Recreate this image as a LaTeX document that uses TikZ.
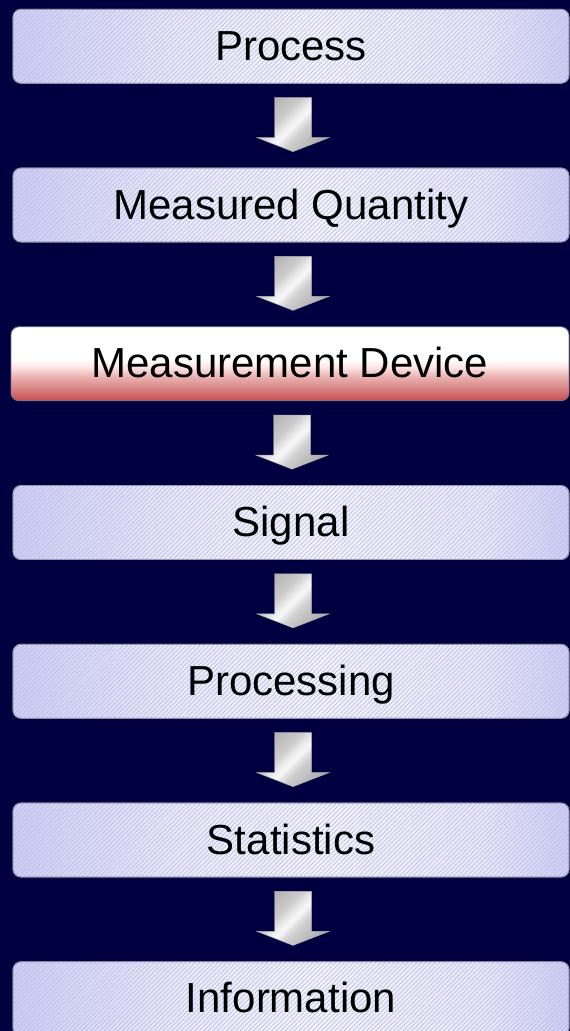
\documentclass[tikz,border=0pt]{standalone}
\usepackage{fontspec}
\setmainfont{Liberation Sans}
\usetikzlibrary{calc,patterns.meta}

\definecolor{navy}{RGB}{0,0,64}
\definecolor{lavedge}{RGB}{206,206,248}
\definecolor{lavmid}{RGB}{244,244,254}
\definecolor{lavline}{RGB}{188,188,224}
\definecolor{boxrim}{RGB}{150,150,175}
\definecolor{rosebase}{RGB}{198,76,76}
\definecolor{rosemid}{RGB}{234,176,176}

% soft lavender band: deeper at both ends, pale in the middle
% (TikZ fits the 25bp..75bp part of a shading to the path)
\pgfdeclarehorizontalshading{lavshade}{100bp}{
  color(0bp)=(lavedge); color(25bp)=(lavedge);
  color(40bp)=(lavmid!75!lavedge); color(52.5bp)=(lavmid);
  color(67.5bp)=(lavmid!70!lavedge); color(75bp)=(lavedge);
  color(100bp)=(lavedge)}
% white top fading to rose at the bottom
\pgfdeclareverticalshading{roseshade}{100bp}{
  color(0bp)=(rosebase); color(25bp)=(rosebase);
  color(33bp)=(rosebase!70!white); color(41bp)=(rosemid);
  color(48bp)=(white!90!red); color(53bp)=(white);
  color(100bp)=(white)}
% metallic sheen for the block arrows
\pgfdeclarehorizontalshading{steelshade}{100bp}{
  color(0bp)=(black!32); color(25bp)=(black!32);
  color(42bp)=(black!18); color(49bp)=(black!3);
  color(53bp)=(black!7); color(60bp)=(black!20);
  color(75bp)=(black!30); color(100bp)=(black!30)}

\tikzset{
  x=1pt, y=-1pt,
  stage/.style={rounded corners=8pt, draw=boxrim, line width=0.8pt,
    minimum width=556pt, minimum height=74pt, inner sep=0pt,
    text height=28pt, text depth=0pt,
    font=\fontsize{42}{48}\selectfont},
  plainstage/.style={stage, shading=lavshade,
    postaction={pattern={Lines[angle=45,distance=3.2pt,line width=0.7pt]},
                pattern color=lavline},
    postaction={draw=boxrim, line width=0.8pt}},
  keystage/.style={stage, shading=roseshade, draw=boxrim!80!black},
  steel/.style={shading=steelshade, shading angle=135,
    draw=black!30, line width=0.4pt},
}

\begin{document}
\begin{tikzpicture}
  \useasboundingbox (0,0) rectangle (570,1031);
  \clip (0,0) rectangle (570,1031);
  \fill[navy] (0,0) rectangle (570,1031);

  \node[plainstage] (s1) at (291,46.25)  {Process};
  \node[plainstage] (s2) at (291,205)    {Measured Quantity};
  \node[keystage, minimum width=558pt] (s3) at (290,363.75) {Measurement Device};
  \node[plainstage] (s4) at (291,522.5)  {Signal};
  \node[plainstage] (s5) at (291,681.25) {Processing};
  \node[plainstage] (s6) at (291,840)    {Statistics};
  \node[plainstage] (s7) at (291,998.75) {Information};

  % block arrows between consecutive stages
  \foreach \a/\b in {s1/s2,s2/s3,s3/s4,s4/s5,s5/s6,s6/s7}{
    \coordinate (top-\a) at ($(\a.south)+(2,14)$);
    \coordinate (tip-\a) at ($(\a.south)+(2,68)$);
    \path[steel] ($(top-\a)+(-18.5,0)$) -- ($(top-\a)+(18.5,0)$)
      -- ($(top-\a)+(18.5,40)$) -- ($(top-\a)+(36,40)$)
      -- (tip-\a) -- ($(top-\a)+(-36,40)$)
      -- ($(top-\a)+(-18.5,40)$) -- cycle;
  }
\end{tikzpicture}
\end{document}
